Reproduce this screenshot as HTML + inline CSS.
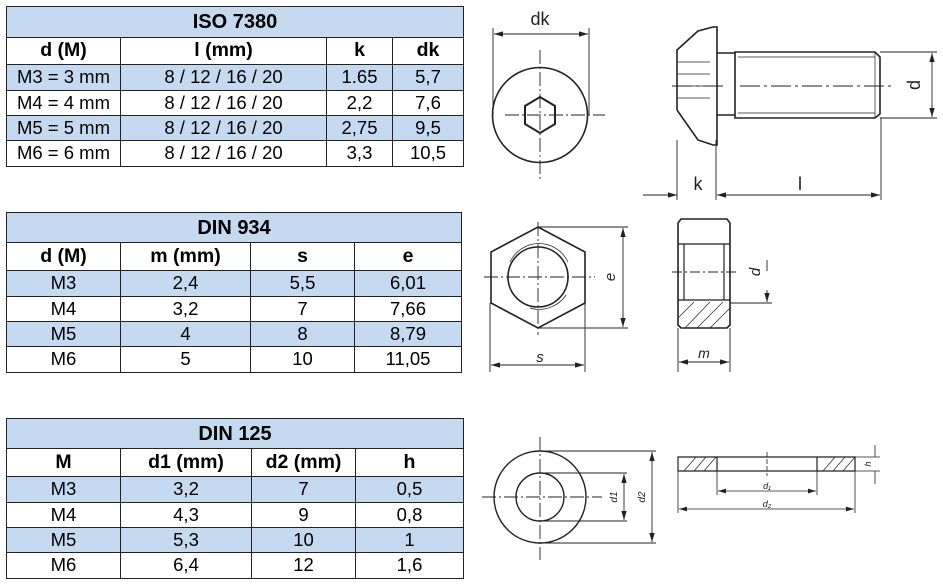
<!DOCTYPE html>
<html><head><style>
body{margin:0;width:943px;height:585px;background:#fff;position:relative;overflow:hidden;font-family:"Liberation Sans",sans-serif;}
table{position:absolute;border-collapse:collapse;left:6px;font-size:18.5px;color:#000;table-layout:fixed;}
td{border:1.5px solid #222;text-align:center;padding:0;line-height:1;white-space:nowrap;}
.t{background:#c5d9f1;font-weight:bold;font-size:20px;}
.h td{font-weight:bold;font-size:19.5px;}
.b td{background:#c5d9f1;}
svg{position:absolute;left:0;top:0;}
</style></head><body>
<table style="top:6px;width:457px">
<colgroup><col style="width:114px"><col style="width:206px"><col style="width:66px"><col style="width:71px"></colgroup>
<tr style="height:31px"><td class="t" colspan="4">ISO 7380</td></tr>
<tr class="h" style="height:27px"><td>d (M)</td><td>l (mm)</td><td>k</td><td>dk</td></tr>
<tr class="b" style="height:26px"><td>M3 = 3 mm</td><td>8 / 12 / 16 / 20</td><td>1.65</td><td>5,7</td></tr>
<tr style="height:25px"><td>M4 = 4 mm</td><td>8 / 12 / 16 / 20</td><td>2,2</td><td>7,6</td></tr>
<tr class="b" style="height:25px"><td>M5 = 5 mm</td><td>8 / 12 / 16 / 20</td><td>2,75</td><td>9,5</td></tr>
<tr style="height:26px"><td>M6 = 6 mm</td><td>8 / 12 / 16 / 20</td><td>3,3</td><td>10,5</td></tr>
</table>
<table style="top:212px;width:455px">
<colgroup><col style="width:114px"><col style="width:130px"><col style="width:104px"><col style="width:107px"></colgroup>
<tr style="height:30px"><td class="t" colspan="4">DIN 934</td></tr>
<tr class="h" style="height:28px"><td>d (M)</td><td>m (mm)</td><td>s</td><td>e</td></tr>
<tr class="b" style="height:26px"><td>M3</td><td>2,4</td><td>5,5</td><td>6,01</td></tr>
<tr style="height:25px"><td>M4</td><td>3,2</td><td>7</td><td>7,66</td></tr>
<tr class="b" style="height:25px"><td>M5</td><td>4</td><td>8</td><td>8,79</td></tr>
<tr style="height:26px"><td>M6</td><td>5</td><td>10</td><td>11,05</td></tr>
</table>
<table style="top:418px;width:457px">
<colgroup><col style="width:114px"><col style="width:131px"><col style="width:104px"><col style="width:108px"></colgroup>
<tr style="height:30px"><td class="t" colspan="4">DIN 125</td></tr>
<tr class="h" style="height:28px"><td>M</td><td>d1 (mm)</td><td>d2 (mm)</td><td>h</td></tr>
<tr class="b" style="height:26px"><td>M3</td><td>3,2</td><td>7</td><td>0,5</td></tr>
<tr style="height:25px"><td>M4</td><td>4,3</td><td>9</td><td>0,8</td></tr>
<tr class="b" style="height:25px"><td>M5</td><td>5,3</td><td>10</td><td>1</td></tr>
<tr style="height:26px"><td>M6</td><td>6,4</td><td>12</td><td>1,6</td></tr>
</table>
<svg width="943" height="585" viewBox="0 0 943 585" fill="none" stroke="#222" stroke-width="1.3" font-family="Liberation Sans,sans-serif">
<defs><marker id="a" viewBox="0 0 10 6" refX="10" refY="3" markerWidth="10" markerHeight="6" orient="auto-start-reverse"><path d="M0,0L10,3L0,6z" fill="#222" stroke="none"/></marker></defs>
<circle cx="540" cy="115" r="47.5" stroke-width="1.6"/>
<path d="M540,97 L555,106 L555,124 L540,133 L525,124 L525,106Z" stroke-width="2"/>
<path d="M505,115H605M540,50V180" stroke-dasharray="14,3,2,3" stroke-width="0.9"/>
<path d="M493,28V115M589,28V115" stroke-width="0.9"/>
<line x1="494" y1="34" x2="588" y2="34" marker-start="url(#a)" marker-end="url(#a)" stroke-width="0.9"/>
<text x="540" y="25" font-size="18" fill="#222" stroke="none" text-anchor="middle">dk</text>
<path d="M677,110V50L698,31L713,27L717,27V145L713,145L698,140L677,110" stroke-width="1.6"/>
<path d="M677,62H710M677,74H710M677,86H710M677,98H710" stroke-width="0.8"/>
<path d="M717,53H735V115H717M735,52H875L880,57V114L875,118H735Z" stroke-width="1.6"/>
<path d="M738,57H875M738,113H875M875,52V118" stroke-width="0.7"/>
<path d="M672,86H725M740,86H895" stroke-dasharray="20,4,3,4" stroke-width="0.9"/>
<path d="M880,52H937M880,118H937M677,140V200M716,140V200M881,118V200" stroke-width="0.9"/>
<line x1="932" y1="53" x2="932" y2="117" marker-start="url(#a)" marker-end="url(#a)" stroke-width="0.9"/>
<line x1="643" y1="195" x2="677" y2="195" marker-end="url(#a)" stroke-width="0.9"/>
<line x1="717" y1="195" x2="880" y2="195" marker-start="url(#a)" marker-end="url(#a)" stroke-width="0.9"/>
<text x="698" y="190" font-size="18" fill="#222" stroke="none" text-anchor="middle">k</text>
<text x="800" y="190" font-size="18" fill="#222" stroke="none" text-anchor="middle">l</text>
<text x="920" y="85" font-size="18" fill="#222" stroke="none" text-anchor="middle" transform="rotate(-90 920 85)">d</text>
<path d="M538,227L585,252V303L538,328L491,303V252Z" stroke-width="1.6"/>
<path d="M510,262A32,32 0 0 1 568,262M566,295A32,32 0 0 1 530,308" stroke-width="0.7"/>
<circle cx="538" cy="277" r="30" stroke-width="1.6"/>
<path d="M484,277H595M538,222V335" stroke-dasharray="14,3,2,3" stroke-width="0.9"/>
<path d="M538,227H628M538,328H628M490,303V372M585,303V372" stroke-width="0.9"/>
<line x1="623" y1="228" x2="623" y2="327" marker-start="url(#a)" marker-end="url(#a)" stroke-width="0.9"/>
<line x1="491" y1="365" x2="584" y2="365" marker-start="url(#a)" marker-end="url(#a)" stroke-width="0.9"/>
<text x="540" y="362" font-size="15" font-style="italic" fill="#222" stroke="none" text-anchor="middle">s</text>
<text x="615" y="277" font-size="15" font-style="italic" fill="#222" stroke="none" text-anchor="middle" transform="rotate(-90 615 277)">e</text>
<path d="M681,219H727L730,223V325L727,328H681L678,325V223Z" stroke-width="1.6"/>
<path d="M678,244H730M678,300H730M684,244V300M724,244V300" stroke-width="1.2"/>
<path d="M685,328L710,302M697,328L723,302M710,328L730,308M678,318L694,302" stroke-width="0.7"/>
<path d="M672,272H738" stroke-dasharray="10,3,2,3" stroke-width="0.9"/>
<path d="M730,303H772M678,328V372M730,328V372" stroke-width="0.9"/>
<line x1="767" y1="260" x2="767" y2="271" stroke-width="0.9"/>
<line x1="767" y1="290" x2="767" y2="302" marker-end="url(#a)" stroke-width="0.9"/>
<line x1="679" y1="362" x2="729" y2="362" marker-start="url(#a)" marker-end="url(#a)" stroke-width="0.9"/>
<text x="704" y="358" font-size="14" font-style="italic" fill="#222" stroke="none" text-anchor="middle">m</text>
<text x="760" y="272" font-size="15" font-style="italic" fill="#222" stroke="none" text-anchor="middle" transform="rotate(-90 760 272)">d</text>
<circle cx="540" cy="497" r="46" stroke-width="1.4"/>
<circle cx="540" cy="497" r="24" stroke-width="1.4"/>
<path d="M482,497H602M540,437V560" stroke-dasharray="14,3,2,3" stroke-width="0.9"/>
<path d="M540,451H656M540,543H656M540,473H627M540,521H627" stroke-width="0.9"/>
<line x1="624" y1="474" x2="624" y2="520" marker-start="url(#a)" marker-end="url(#a)" stroke-width="0.9"/>
<line x1="652" y1="452" x2="652" y2="542" marker-start="url(#a)" marker-end="url(#a)" stroke-width="0.9"/>
<text x="617" y="497" font-size="10" font-style="italic" fill="#222" stroke="none" text-anchor="middle" transform="rotate(-90 617 497)">d1</text>
<text x="645" y="497" font-size="10" font-style="italic" fill="#222" stroke="none" text-anchor="middle" transform="rotate(-90 645 497)">d2</text>
<path d="M678,457H855V471H678Z M717,457V471M817,457V471" stroke-width="1.2"/>
<path d="M684,471L696,457M694,471L706,457M704,471L716,457M823,471L835,457M833,471L845,457M843,471L855,457" stroke-width="0.7"/>
<path d="M767,452V476" stroke-dasharray="5,2" stroke-width="0.8"/>
<path d="M717,471V495M817,471V495M678,471V513M855,471V513M855,457H880M855,471H880" stroke-width="0.8"/>
<line x1="718" y1="491" x2="816" y2="491" marker-start="url(#a)" marker-end="url(#a)" stroke-width="0.8"/>
<line x1="679" y1="509" x2="854" y2="509" marker-start="url(#a)" marker-end="url(#a)" stroke-width="0.8"/>
<path d="M875,445V457M875,471V484" stroke-width="0.8"/>
<text x="767" y="489" font-size="9" font-style="italic" fill="#222" stroke="none" text-anchor="middle">d₁</text>
<text x="767" y="507" font-size="9" font-style="italic" fill="#222" stroke="none" text-anchor="middle">d₂</text>
<text x="871" y="464" font-size="9" font-style="italic" fill="#222" stroke="none" text-anchor="middle" transform="rotate(-90 871 464)">h</text>
</svg>
</body></html>
